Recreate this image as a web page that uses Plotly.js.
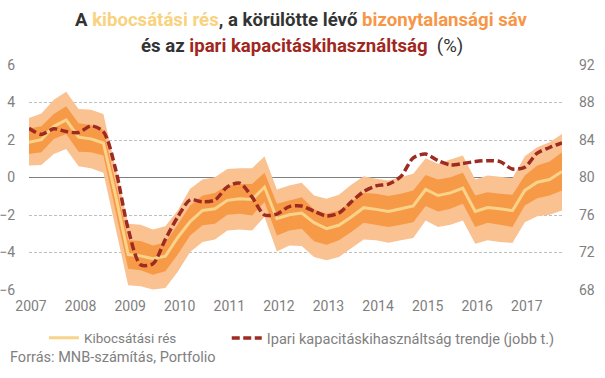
<!DOCTYPE html>
<html>
<head>
<meta charset="utf-8">
<script src="https://cdn.plot.ly/plotly-3.0.1.min.js"></script>
<style>
html,body{margin:0;padding:0;background:#fff;}
#chart{width:605px;height:378px;}
</style>
</head>
<body>
<div id="chart"></div>
<script>
// Quarterly categories 2007Q1 - 2017Q4
const years = [2007,2008,2009,2010,2011,2012,2013,2014,2015,2016,2017];
const quarters = [];
years.forEach(y => { ['Q1','Q2','Q3','Q4'].forEach(q => quarters.push(y + q)); });

// Output gap (Kibocsátási rés), % - left axis
const outputGap = [1.88,2.02,2.73,3.07,2.15,2.06,1.84,-1.0,-4.11,-4.18,-4.33,-4.2,-3.2,-2.35,-1.76,-1.67,-1.22,-1.13,-1.17,-0.51,-2.2,-1.99,-1.9,-2.41,-2.73,-2.55,-2.11,-1.61,-1.7,-1.81,-1.67,-1.52,-0.64,-0.96,-0.82,-0.57,-1.81,-1.6,-1.67,-1.77,-0.69,-0.25,-0.11,0.32];
// Inner uncertainty band
const innerUpper = [2.62,2.73,3.39,3.8,2.89,2.8,2.55,-0.3,-3.35,-3.39,-3.62,-3.47,-2.5,-1.49,-0.96,-0.82,-0.43,-0.35,-0.34,0.25,-1.4,-1.22,-1.05,-1.7,-1.93,-1.76,-1.31,-0.82,-0.87,-0.99,-0.87,-0.69,0.14,-0.11,0.02,0.25,-0.96,-0.78,-0.87,-0.92,0.11,0.64,0.85,1.35];
const innerLower = [1.26,1.35,2.06,2.32,1.38,1.35,1.17,-1.8,-4.86,-4.95,-5.18,-5.0,-4.1,-3.09,-2.55,-2.46,-1.99,-1.93,-2.02,-1.31,-3.09,-2.82,-2.73,-3.4,-3.58,-3.35,-2.91,-2.41,-2.52,-2.64,-2.52,-2.38,-1.52,-1.81,-1.67,-1.4,-2.64,-2.41,-2.52,-2.64,-1.49,-1.1,-0.96,-0.69];
// Outer uncertainty band
const outerUpper = [3.17,3.42,4.15,4.57,3.65,3.62,3.39,0.5,-2.46,-2.52,-2.77,-2.6,-1.76,-0.6,-0.11,0.02,0.46,0.5,0.5,1.12,-0.64,-0.43,-0.28,-0.96,-1.13,-0.92,-0.39,0.07,-0.07,-0.16,0.02,0.2,1.03,0.73,0.96,1.17,-0.11,0.11,0.04,-0.04,1.13,1.61,1.88,2.32];
const outerLower = [0.64,0.67,1.26,1.52,0.6,0.5,0.25,-2.7,-5.74,-5.8,-5.97,-5.89,-5.03,-3.97,-3.44,-3.3,-2.82,-2.77,-2.82,-2.11,-3.94,-3.62,-3.65,-4.24,-4.41,-4.24,-3.76,-3.3,-3.35,-3.48,-3.35,-3.23,-2.29,-2.64,-2.52,-2.29,-3.53,-3.35,-3.44,-3.49,-2.38,-2.06,-1.99,-1.76];
// Industrial capacity utilisation trend, % - right axis
const capacityTrend = [85.25,84.6,85.2,84.9,84.8,85.5,84.9,80.8,74.5,70.7,70.8,73.4,75.8,77.6,77.4,77.6,79.0,79.4,77.9,76.0,76.1,76.9,76.95,76.4,75.9,76.2,77.4,78.5,79.1,79.3,80.1,82.1,82.5,81.8,81.35,81.5,81.7,81.8,81.7,80.9,81.1,82.6,83.2,83.7];

const tickYears = years.map(y => y + 'Q1');
const tickText = years.map(y => String(y));
const leftTicks = [-6,-4,-2,0,2,4,6];
const rightTicks = [68,72,76,80,84,88,92];

const titleLine1 = "<b>A <span style='color:#F9D27E'>kibocsátási rés</span>, a körülötte lévő <span style='color:#F79646'>bizonytalansági sáv</span></b>";
const titleLine2 = "<b>és az <span style='color:#A0271E'>ipari kapacitáskihasználtság</span></b>  (%)";
const sourceText = 'Forrás: MNB-számítás, Portfolio';

const cLight = '#FAC191';
const cDark = '#F79A48';
const cGap = '#F9D38A';
const cTrend = '#9E2B22';
const cText = '#333333';
const cTick = '#808080';

const traces = [
  {x: quarters, y: outerLower, type:'scatter', mode:'lines', line:{width:0, color:cLight}, showlegend:false, hoverinfo:'skip'},
  {x: quarters, y: outerUpper, type:'scatter', mode:'lines', line:{width:0, color:cLight}, fill:'tonexty', fillcolor:cLight, showlegend:false, hoverinfo:'skip'},
  {x: quarters, y: innerLower, type:'scatter', mode:'lines', line:{width:0, color:cDark}, showlegend:false, hoverinfo:'skip'},
  {x: quarters, y: innerUpper, type:'scatter', mode:'lines', line:{width:0, color:cDark}, fill:'tonexty', fillcolor:cDark, showlegend:false, hoverinfo:'skip'},
  {x: quarters, y: outputGap, type:'scatter', mode:'lines', name:'Kibocsátási rés', legend:'legend', line:{width:3, color:cGap}},
  {x: quarters, y: capacityTrend, type:'scatter', mode:'lines', name:'Ipari kapacitáskihasználtság trendje (jobb t.)', legend:'legend2', yaxis:'y2', line:{width:3.5, color:cTrend, dash:'8px,3.5px', shape:'spline', smoothing:0.8}}
];

const layout = {
  width:605, height:378,
  margin:{l:29, r:43, t:65, b:88},
  paper_bgcolor:'#fff', plot_bgcolor:'#fff',
  font:{family:'Roboto, sans-serif', size:14, color:cTick},
  xaxis:{
    type:'category', range:[0, quarters.length-1],
    tickmode:'array', tickvals:tickYears, ticktext:tickText,
    showgrid:false, zeroline:false, showline:false, ticks:'',
    ticklabelstandoff:6, ticklabelshift:2,
    tickfont:{size:14, color:cTick}, fixedrange:true
  },
  yaxis:{
    range:[-6,6], tickmode:'array', tickvals:leftTicks,
    showgrid:true, gridcolor:'#BFBFBF', griddash:'3px,2px', gridwidth:1,
    zeroline:true, zerolinecolor:'#7F7F7F', zerolinewidth:1.5,
    showline:false, ticks:'', ticklabelstandoff:13,
    tickfont:{size:14, color:cTick}
  },
  yaxis2:{
    range:[68,92], tickmode:'array', tickvals:rightTicks,
    overlaying:'y', side:'right', showgrid:false, zeroline:false, showline:false, ticks:'',
    ticklabelstandoff:16,
    tickfont:{size:14, color:cTick}
  },
  legend:{
    orientation:'h', x:0.028, xanchor:'left', y:-0.213, yanchor:'middle',
    font:{size:13.5, color:cTick}, bgcolor:'rgba(0,0,0,0)'
  },
  legend2:{
    orientation:'h', x:0.371, xanchor:'left', y:-0.213, yanchor:'middle',
    font:{size:14.6, color:cTick}, bgcolor:'rgba(0,0,0,0)'
  },
  annotations:[
    {text:titleLine1, xref:'paper', yref:'paper', x:0.512, y:1.2, xanchor:'center', yanchor:'middle', showarrow:false, font:{family:'Roboto, sans-serif', size:18.6, color:cText}},
    {text:titleLine2, xref:'paper', yref:'paper', x:0.512, y:1.084, xanchor:'center', yanchor:'middle', showarrow:false, font:{family:'Roboto, sans-serif', size:18.6, color:cText}},
    {text:sourceText, xref:'paper', yref:'paper', x:-0.04, y:-0.302, xanchor:'left', yanchor:'middle', showarrow:false, font:{size:14.5, color:cTick}}
  ]
};

Plotly.newPlot('chart', traces, layout, {displayModeBar:false, staticPlot:true});
</script>
</body>
</html>
